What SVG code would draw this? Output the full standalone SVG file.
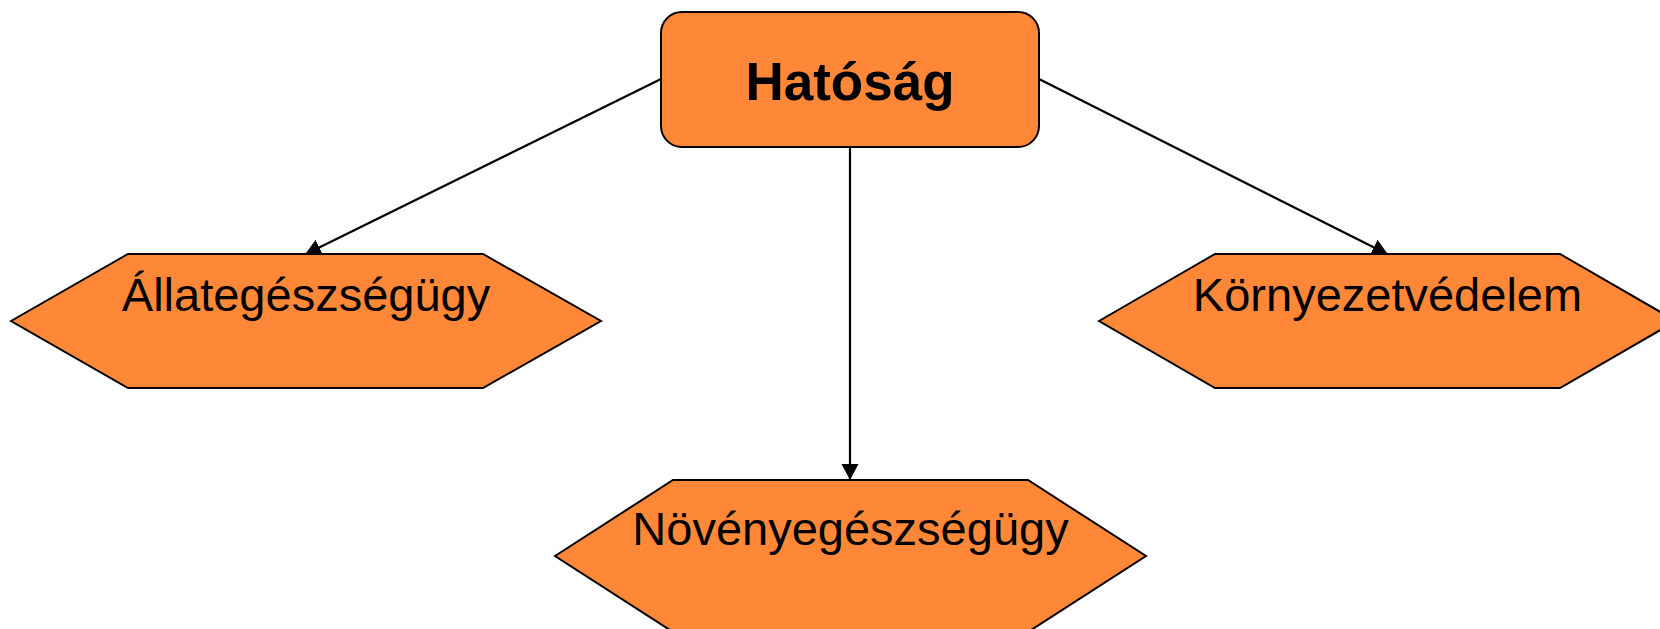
<svg xmlns="http://www.w3.org/2000/svg" width="1660" height="629" viewBox="0 0 1660 629">
  <style>
    .node { fill: #FF8838; stroke: #000; stroke-width: 2; }
    .hex { fill: #FF8838; stroke: #000; stroke-width: 2; stroke-linejoin: miter; }
    .conn { stroke: #000; stroke-width: 2.2; fill: none; }
    .lbl { font-family: "Liberation Sans", Arial, sans-serif; font-size: 47px; fill: #000; text-anchor: middle; }
    .title { font-family: "Liberation Sans", Arial, sans-serif; font-size: 53px; font-weight: bold; fill: #000; text-anchor: middle; }
  </style>
  <defs>
    <marker id="arrow" markerUnits="userSpaceOnUse" markerWidth="18" markerHeight="18" refX="16" refY="8.5" orient="auto" viewBox="0 0 18 18">
      <path d="M0,0 L16,8.5 L0,17 Z" fill="#000"/>
    </marker>
  </defs>
  <rect width="1660" height="629" fill="#fff"/>
  <g id="connectors">
    <line class="conn" x1="661" y1="79" x2="305" y2="254.5" marker-end="url(#arrow)"/>
    <line class="conn" x1="850" y1="147" x2="850" y2="480" marker-end="url(#arrow)"/>
    <line class="conn" x1="1039" y1="79" x2="1388" y2="254.5" marker-end="url(#arrow)"/>
  </g>
  <g id="hatosag">
    <rect class="node" x="661" y="12" width="378" height="135" rx="21" ry="21"/>
    <text class="title" x="850" y="100">Hatóság</text>
  </g>
  <g id="allategeszsegugy">
    <polygon class="hex" points="11,321 128,254 483,254 601,321 483,388 128,388"/>
    <text class="lbl" x="306" y="311">Állategészségügy</text>
  </g>
  <g id="kornyezetvedelem">
    <polygon class="hex" points="1099,321 1215,254 1560,254 1676,321 1560,388 1215,388"/>
    <text class="lbl" x="1387.5" y="311">Környezetvédelem</text>
  </g>
  <g id="novenyegeszsegugy">
    <polygon class="hex" points="555,556 673,480 1028,480 1146,556 1028,632 673,632"/>
    <text class="lbl" x="850.5" y="545">Növényegészségügy</text>
  </g>
</svg>
